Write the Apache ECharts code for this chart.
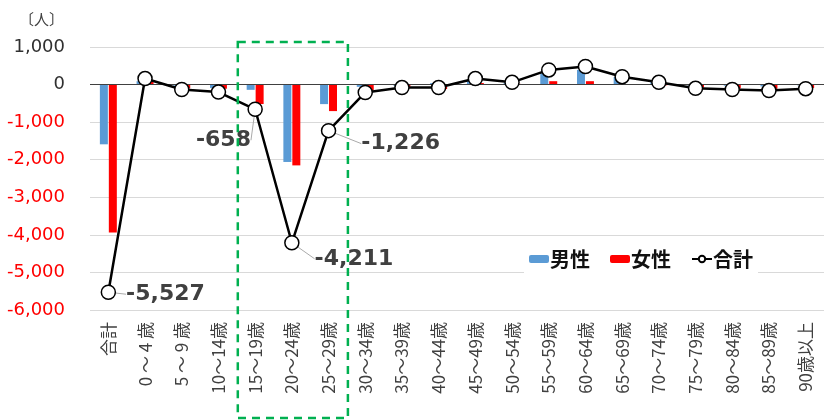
<!DOCTYPE html>
<html><head><meta charset="utf-8">
<script src="https://cdn.jsdelivr.net/npm/echarts@6/dist/echarts.min.js"></script>
<style>html,body{margin:0;padding:0;background:#fff}#c{width:824px;height:420px}</style>
</head><body><div id="c"></div>
<script>
const categories = ['合計','0 ～ 4 歳','5 ～ 9 歳','10～14歳','15～19歳','20～24歳','25～29歳','30～34歳','35～39歳','40～44歳','45～49歳','50～54歳','55～59歳','60～64歳','65～69歳','70～74歳','75～79歳','80～84歳','85～89歳','90歳以上'];
const male =   [-1590, 90, -30, -90, -140, -2060, -520, -60, -30, 40, 120, 40, 300, 390, 200, 80, -20, -30, -50, -20];
const female = [-3937, 70, -100, -110, -518, -2151, -706, -150, -50, -120, 40, 20, 90, 90, 10, -20, -80, -100, -110, -90];
const total =  [-5527, 160, -130, -200, -658, -4211, -1226, -210, -80, -80, 160, 60, 390, 480, 210, 60, -100, -130, -160, -110];
const yTicks = {min: -6000, max: 1000, interval: 1000};
const labelled = {0: [5, 2], 4: [-72, 31], 5: [10, 16], 6: [20, 13]};
const highlightRange = [4, 6];

const FONT = '"Noto Sans CJK JP", "Noto Sans", sans-serif';
const NUMFONT = '"DejaVu Sans", sans-serif';
const chart = echarts.init(document.getElementById('c'));
const fmt = v => v.toLocaleString('en-US');
chart.setOption({
  animation: false,
  textStyle: {fontFamily: FONT},
  grid: {left: 90, right: 0, top: 47, bottom: 110},
  legend: {
    data: ['男性','女性','合計'],
    left: 524, top: 244, itemGap: 20, itemWidth: 20, itemHeight: 8,
    textStyle: {fontSize: 20, fontWeight: 'bold', color: '#111', fontFamily: FONT, padding: [0,0,0,-4]},
    backgroundColor: '#fff'
  },
  graphic: [],
  xAxis: {
    type: 'category', data: categories,
    axisLine: {show: false}, axisTick: {show: false},
    axisLabel: {rotate: 90, fontSize: 17, color: '#404040', margin: 12, interval: 0, fontFamily: FONT}
  },
  yAxis: {
    type: 'value', min: yTicks.min, max: yTicks.max, interval: yTicks.interval,
    name: '〔人〕', nameLocation: 'end', nameGap: 20,
    nameTextStyle: {fontSize: 15, color: '#404040', align: 'right', padding: [0, 26, 0, 0]},
    axisLabel: {fontSize: 18, margin: 25, formatter: v => fmt(v),
      color: v => (v < 0 ? '#FF0000' : '#303030'), fontFamily: NUMFONT},
    splitLine: {lineStyle: {color: '#d9d9d9', width: 1}},
    axisLine: {show: false}, axisTick: {show: false}
  },
  series: [
    {name: '男性', type: 'bar', data: male, barWidth: 8, barGap: '12%',
     itemStyle: {color: '#5B9BD5'},
     markLine: {silent: true, symbol: 'none', label: {show: false},
       lineStyle: {color: '#404040', width: 1, type: 'solid'}, data: [{yAxis: 0}]}},
    {name: '女性', type: 'bar', data: female, barWidth: 8,
     itemStyle: {color: '#FF0000'}},
    {name: '合計', type: 'line', data: total.map((v, i) => {
        const o = {value: v};
        if (labelled[i]) o.label = {show: true};
        return o;
      }),
     symbol: 'circle', symbolSize: 14, z: 5,
     lineStyle: {color: '#000', width: 2.5},
     itemStyle: {color: '#fff', borderColor: '#000', borderWidth: 1.5},
     label: {show: false, formatter: p => fmt(p.value), fontSize: 22, fontWeight: 'bold',
       color: '#404040', fontFamily: NUMFONT, position: 'right'},
     labelLine: {show: true, lineStyle: {color: '#aaa', width: 1}},
     labelLayout: p => {
       const d = labelled[p.dataIndex];
       if (!d) return {};
       return {dx: d[0], dy: d[1]};
     }}
  ]
});
// highlight box around categories, located via the category axis
const w = chart.convertToPixel({xAxisIndex: 0}, 1) - chart.convertToPixel({xAxisIndex: 0}, 0);
const x0 = chart.convertToPixel({xAxisIndex: 0}, highlightRange[0]) - w / 2;
const x1 = chart.convertToPixel({xAxisIndex: 0}, highlightRange[1]) + w / 2;
const yTop = chart.convertToPixel({yAxisIndex: 0}, yTicks.max) - 5;
chart.setOption({graphic: [{type: 'rect', silent: true, z: 10,
  shape: {x: x0 + 1, y: yTop, width: x1 - x0, height: 418 - yTop},
  style: {fill: 'none', stroke: '#00B050', lineWidth: 2.5, lineDash: [8, 6]}}]});
</script></body></html>
